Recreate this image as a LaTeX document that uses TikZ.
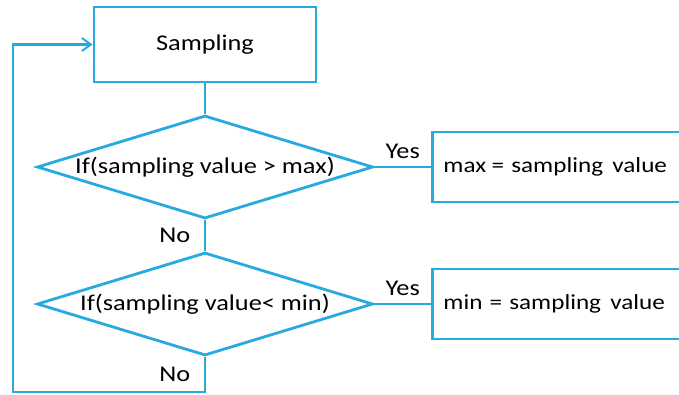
\documentclass[tikz,border=0pt]{standalone}
\usepackage{fontspec}
\setmainfont{Carlito}[FakeStretch=1.17]
\usetikzlibrary{shapes.geometric,arrows.meta}
\definecolor{flowblue}{RGB}{40,170,225}
\tikzset{
    flow/.style={draw=flowblue,line width=2.8pt},
    stepbox/.style={flow,rectangle,fill=white,inner sep=0pt},
    decide/.style={flow,diamond,fill=white,inner sep=0pt,aspect=3.26,
        minimum width=336pt,minimum height=103pt},
    setbox/.style={stepbox,anchor=west,minimum height=70pt,
        text width=300pt,inner xsep=11pt,align=left,
        font=\fontsize{21.5}{26}\selectfont},
}
\begin{document}
\begin{tikzpicture}[x=1pt,y=-1pt,font=\fontsize{22.5}{26}\selectfont]
    \useasboundingbox (0,0) rectangle (679,394);
    \clip (0,0) rectangle (679,394);
    \node[stepbox,minimum width=222pt,minimum height=75pt] (samp) at (205,44.5) {Sampling};
    \node[decide] (ifmax) at (205,167) {If(sampling value > max)};
    \node[decide] (ifmin) at (205,304) {If(sampling value< min)};
    \node[setbox] (setmax) at (431,167) {max\hspace{-0.08em} = sampling\hspace{0.1em} value};
    \node[setbox] (setmin) at (431,304) {min = sampling\hspace{0.1em} value};
    \coordinate (lb) at (13,392);
    \draw[flow] (samp) -- (ifmax);
    \draw[flow] (ifmax) -- node[left,xshift=-10pt] {No} (ifmin);
    \draw[flow] (ifmax) -- node[above=4pt] {Yes} (setmax);
    \draw[flow] (ifmin) -- node[above=4pt] {Yes} (setmin);
    \draw[flow,-{Straight Barb[length=9pt,width=13pt,line width=2pt]}]
        (ifmin.south) -- node[left,xshift=-10pt] {No} (ifmin.south |- lb)
        -- (lb) |- (samp.west);
\end{tikzpicture}
\end{document}
